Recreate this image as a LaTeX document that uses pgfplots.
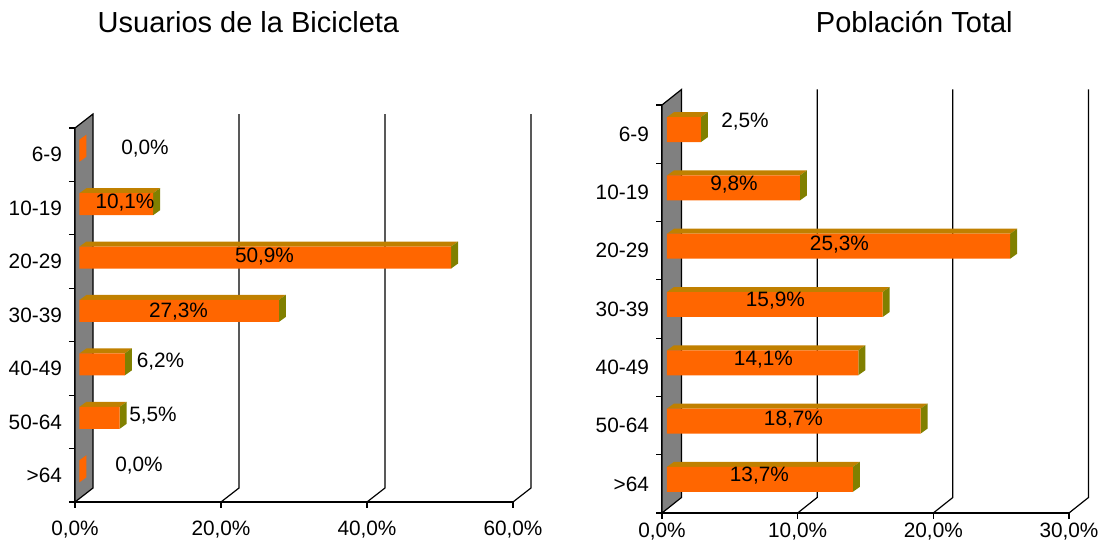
\documentclass[border=0pt]{standalone}
\usepackage{pgfplots}
\pgfplotsset{compat=1.18}
\usepackage{pgfplotstable}
\usepackage{fontspec}
\setmainfont{Liberation Sans}

\definecolor{barfront}{RGB}{255,102,0}
\definecolor{bartop}{RGB}{192,128,0}
\definecolor{barside}{RGB}{128,128,0}
\definecolor{wallgray}{RGB}{128,128,128}

\newcommand\lblfont{\fontsize{10.4}{12}\selectfont}
\newcommand\titlefont{\fontsize{14.5}{17}\selectfont}

% y = category index from bottom, v = value (%), lx/ly = label position
\pgfplotstableread{
y v lx ly
6 0.0 9.59 6.607
5 10.1 6.85 5.605
4 50.9 25.96 4.595
3 27.3 14.18 3.565
2 6.2 11.71 2.620
1 5.5 10.68 1.619
0 0.0 8.77 0.674
}\leftdata

\pgfplotstableread{
y v lx ly
6 2.5 6.12 6.715
5 9.8 5.31 5.635
4 25.3 13.08 4.606
3 15.9 8.36 3.636
2 14.1 7.48 2.630
1 18.7 9.69 1.595
0 13.7 7.18 0.643
}\rightdata

\newcommand\drawframe[1]{%
  \pgfmathsetmacro\wt{7+\Dy}%
  \edef\temp{\noexpand\addplot[fill=wallgray,draw=black,line width=0.6pt] coordinates {(0,0) (0,7) (\Dx,\wt) (\Dx,\Dy) (0,0)};}\temp
  \pgfplotsforeachungrouped \g in {#1}{%
    \pgfmathsetmacro\gx{\g+\Dx}%
    \edef\temp{\noexpand\addplot[draw=black,line width=0.6pt] coordinates {(\g,0) (\gx,\Dy) (\gx,\wt)};}\temp
  }%
}

\newcommand\drawbars[1]{%
  \pgfplotsforeachungrouped \i in {0,...,6}{%
    \pgfplotstablegetelem{\i}{v}\of#1\let\vv\pgfplotsretval
    \pgfplotstablegetelem{\i}{y}\of#1\let\yy\pgfplotsretval
    \pgfplotstablegetelem{\i}{lx}\of#1\let\lx\pgfplotsretval
    \pgfplotstablegetelem{\i}{ly}\of#1\let\ly\pgfplotsretval
    \pgfmathsetmacro\xa{\ox}%
    \pgfmathsetmacro\xb{\ox+\vv}%
    \pgfmathsetmacro\xc{\ox+\dx}%
    \pgfmathsetmacro\xd{\ox+\vv+\dx}%
    \pgfmathsetmacro\ya{\yy+0.5+\oy-\hh}%
    \pgfmathsetmacro\yb{\yy+0.5+\oy+\hh}%
    \pgfmathsetmacro\yc{\yy+0.5+\oy-\hh+\dy}%
    \pgfmathsetmacro\yd{\yy+0.5+\oy+\hh+\dy}%
    \ifdim\vv pt=0pt \def\sidecol{barfront}\else\def\sidecol{barside}\fi
    \edef\temp{%
      \noexpand\addplot[fill=bartop,draw=none] coordinates {(\xa,\yb) (\xb,\yb) (\xd,\yd) (\xc,\yd) (\xa,\yb)};
      \noexpand\addplot[fill=\sidecol,draw=none] coordinates {(\xb,\ya) (\xd,\yc) (\xd,\yd) (\xb,\yb) (\xb,\ya)};
      \noexpand\addplot[fill=barfront,draw=none] coordinates {(\xa,\ya) (\xb,\ya) (\xb,\yb) (\xa,\yb) (\xa,\ya)};
      \noexpand\node[font=\noexpand\lblfont,inner sep=0pt] at (axis cs:\lx,\ly) {\noexpand\pgfmathprintnumber[fixed,fixed zerofill,precision=1,use comma]{\vv}\noexpand\%};
    }\temp
  }%
}

\pgfplotsset{
  chart/.style={
    scale only axis, clip=false,
    anchor=south west,
    ymin=0, ymax=7,
    axis x line*=bottom, axis y line*=left,
    axis line style={-, line width=0.6pt},
    tick style={black, line width=0.6pt},
    tick align=outside,
    major tick length=3pt,
    ytick={0,...,7}, yticklabels={},
    extra y ticks={0.5,1.5,...,6.5},
    extra y tick labels={>64,50-64,40-49,30-39,20-29,10-19,6-9},
    extra y tick style={major tick length=0pt, tick style={draw=none}},
    yticklabel style={font=\lblfont, xshift=-3pt},
    /pgf/number format/assume math mode=true,
    xticklabel={\pgfmathprintnumber[fixed,fixed zerofill,precision=1,use comma]{\tick}\%},
  }
}

\begin{document}
\begin{tikzpicture}
\useasboundingbox (0,0) rectangle (552.5pt,275pt);

% ---- left chart ----
\begin{axis}[chart,
  at={(37.5pt,24pt)},
  width=219pt, height=187pt,
  xticklabel style={font=\lblfont, yshift=-3pt},
  xmin=0, xmax=60, xtick={0,20,40,60}]
  \def\Dx{2.466}\def\Dy{0.262}
  \def\ox{0.616}\def\oy{0.075}\def\dx{0.959}\def\dy{0.094}\def\hh{0.206}
  \drawframe{20,40,60}
  \drawbars{\leftdata}
  \node[font=\titlefont] at (rel axis cs:0.396,1.283) {Usuarios de la Bicicleta};
\end{axis}

% ---- right chart ----
\begin{axis}[chart,
  at={(331pt,18.5pt)},
  width=203.5pt, height=204pt,
  xticklabel style={font=\lblfont, yshift=1.5pt},
  xmin=0, xmax=30, xtick={0,10,20,30}]
  \def\Dx{1.437}\def\Dy{0.266}
  \def\ox{0.368}\def\oy{0.077}\def\dx{0.516}\def\dy{0.086}\def\hh{0.214}
  \drawframe{10,20,30}
  \drawbars{\rightdata}
  \node[font=\titlefont] at (rel axis cs:0.620,1.203) {Población Total};
\end{axis}
\end{tikzpicture}
\end{document}
